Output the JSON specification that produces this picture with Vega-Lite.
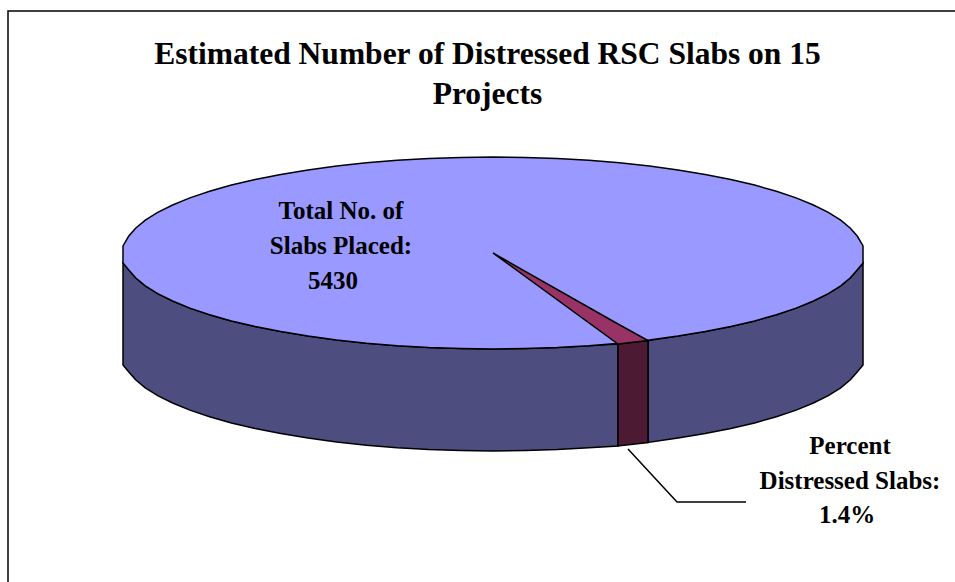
{
"$schema":"https://vega.github.io/schema/vega-lite/v6.json",
"width":955,"height":582,"padding":0,"autosize":{"type":"none"},
"background":"white",
"view":{"stroke":null},
"title":{"text":["Estimated Number of Distressed RSC Slabs on 15","Projects"],"font":"Liberation Serif","fontSize":31.5,"fontWeight":"bold","color":"black","anchor":"middle","frame":"group","dx":10,"offset":-110,"lineHeight":40},
"datasets":{
"frame":[{"x":8,"y":582,"o":1},{"x":8,"y":11,"o":2},{"x":955,"y":11,"o":3}],
"top":[{"x":123,"y0":246,"y1":263},{"x":128.6,"y0":236.3,"y1":269.7},{"x":135.6,"y0":228.2,"y1":277.8},{"x":145.3,"y0":220.2,"y1":285.8},{"x":157.7,"y0":212.4,"y1":293.6},{"x":172.6,"y0":205,"y1":301},{"x":189.9,"y0":197.9,"y1":308.1},{"x":209.6,"y0":191.3,"y1":314.7},{"x":231.4,"y0":185.1,"y1":320.9},{"x":255.2,"y0":179.5,"y1":326.5},{"x":280.8,"y0":174.4,"y1":331.6},{"x":308,"y0":169.9,"y1":336.1},{"x":336.6,"y0":166,"y1":340},{"x":366.5,"y0":162.8,"y1":343.2},{"x":397.2,"y0":160.3,"y1":345.7},{"x":428.8,"y0":158.5,"y1":347.5},{"x":460.7,"y0":157.4,"y1":348.6},{"x":493,"y0":157,"y1":349},{"x":525.3,"y0":157.4,"y1":348.6},{"x":557.2,"y0":158.5,"y1":347.5},{"x":588.8,"y0":160.3,"y1":345.7},{"x":619.5,"y0":162.8,"y1":343.2},{"x":649.4,"y0":166,"y1":340},{"x":678,"y0":169.9,"y1":336.1},{"x":705.2,"y0":174.4,"y1":331.6},{"x":730.8,"y0":179.5,"y1":326.5},{"x":754.6,"y0":185.1,"y1":320.9},{"x":776.4,"y0":191.3,"y1":314.7},{"x":796.1,"y0":197.9,"y1":308.1},{"x":813.4,"y0":205,"y1":301},{"x":828.3,"y0":212.4,"y1":293.6},{"x":840.7,"y0":220.2,"y1":285.8},{"x":850.4,"y0":228.2,"y1":277.8},{"x":857.4,"y0":236.3,"y1":269.7},{"x":863,"y0":246,"y1":263}],
"wedge":[{"x":493,"y0":253,"y1":253},{"x":618,"y0":324,"y1":344},{"x":648,"y0":340.5,"y1":340.5}],
"sideLeft":[{"x":123,"y0":263,"y1":365},{"x":128.6,"y0":269.7,"y1":371.7},{"x":135.6,"y0":277.8,"y1":379.8},{"x":145.3,"y0":285.8,"y1":387.8},{"x":157.7,"y0":293.6,"y1":395.6},{"x":172.6,"y0":301,"y1":403},{"x":189.9,"y0":308.1,"y1":410.1},{"x":209.6,"y0":314.7,"y1":416.7},{"x":231.4,"y0":320.9,"y1":422.9},{"x":255.2,"y0":326.5,"y1":428.5},{"x":280.8,"y0":331.6,"y1":433.6},{"x":308,"y0":336.1,"y1":438.1},{"x":336.6,"y0":340,"y1":442},{"x":366.5,"y0":343.2,"y1":445.2},{"x":397.2,"y0":345.7,"y1":447.7},{"x":428.8,"y0":347.5,"y1":449.5},{"x":460.7,"y0":348.6,"y1":450.6},{"x":493,"y0":349,"y1":451},{"x":525.3,"y0":348.6,"y1":450.6},{"x":557.2,"y0":347.5,"y1":449.5},{"x":588.8,"y0":345.7,"y1":447.7},{"x":618,"y0":344,"y1":446}],
"sideDark":[{"x":618,"y0":344,"y1":446},{"x":633,"y0":342.3,"y1":444.3},{"x":648,"y0":340.5,"y1":442.5}],
"sideRight":[{"x":648,"y0":340.5,"y1":442.5},{"x":678,"y0":336.1,"y1":438.1},{"x":705.2,"y0":331.6,"y1":433.6},{"x":730.8,"y0":326.5,"y1":428.5},{"x":754.6,"y0":320.9,"y1":422.9},{"x":776.4,"y0":314.7,"y1":416.7},{"x":796.1,"y0":308.1,"y1":410.1},{"x":813.4,"y0":301,"y1":403},{"x":828.3,"y0":293.6,"y1":395.6},{"x":840.7,"y0":285.8,"y1":387.8},{"x":850.4,"y0":277.8,"y1":379.8},{"x":857.4,"y0":269.7,"y1":371.7},{"x":863,"y0":263,"y1":365}],
"leader":[{"x":628,"y":449,"o":1},{"x":677,"y":502,"o":2},{"x":746,"y":502,"o":3}],
"labels":[{"x":341,"y":211,"t":"Total No. of"},{"x":341,"y":246,"t":"Slabs Placed:"},{"x":333,"y":281,"t":"5430"},{"x":850,"y":446,"t":"Percent"},{"x":850,"y":481,"t":"Distressed Slabs:"},{"x":847,"y":515,"t":"1.4%"}]
},
"encoding":{
"x":{"field":"x","type":"quantitative","scale":{"domain":[0,955],"nice":false,"zero":false},"axis":null},
"y":{"field":"y0","type":"quantitative","scale":{"domain":[582,0],"nice":false,"zero":false},"axis":null},
"y2":{"field":"y1"}
},
"layer":[
{"data":{"name":"sideLeft"},"mark":{"type":"area","fill":"#4d4d80","stroke":"black","strokeWidth":1.5}},
{"data":{"name":"sideRight"},"mark":{"type":"area","fill":"#4d4d80","stroke":"black","strokeWidth":1.5}},
{"data":{"name":"sideDark"},"mark":{"type":"area","fill":"#4d1a33","stroke":"black","strokeWidth":1.5}},
{"data":{"name":"top"},"mark":{"type":"area","fill":"#9999ff","stroke":"black","strokeWidth":1.5}},
{"data":{"name":"wedge"},"mark":{"type":"area","fill":"#993366","stroke":"black","strokeWidth":1.5}},
{"data":{"name":"leader"},"mark":{"type":"line","color":"black","strokeWidth":1.5},"encoding":{"x":{"field":"x","type":"quantitative"},"y":{"field":"y","type":"quantitative"},"y2":null,"order":{"field":"o"}}},
{"data":{"name":"frame"},"mark":{"type":"line","color":"black","strokeWidth":1.5},"encoding":{"x":{"field":"x","type":"quantitative"},"y":{"field":"y","type":"quantitative"},"y2":null,"order":{"field":"o"}}},
{"data":{"name":"labels"},"mark":{"type":"text","font":"Liberation Serif","fontSize":25,"fontWeight":"bold","color":"black","align":"center","baseline":"middle"},"encoding":{"x":{"field":"x","type":"quantitative"},"y":{"field":"y","type":"quantitative"},"y2":null,"text":{"field":"t"}}}
]
}
